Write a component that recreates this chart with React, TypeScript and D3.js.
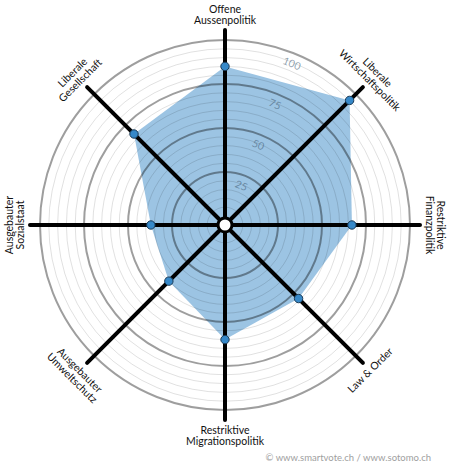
import React, { useRef, useEffect } from 'react';
import * as d3 from 'd3';

// axes clockwise from the top, each label split in its lines
const axisLabels: string[][] = [
  ['Offene', 'Aussenpolitik'],
  ['Liberale', 'Wirtschaftspolitik'],
  ['Restriktive', 'Finanzpolitik'],
  ['Law & Order'],
  ['Restriktive', 'Migrationspolitik'],
  ['Ausgebauter', 'Umweltschutz'],
  ['Ausgebauter', 'Sozialstaat'],
  ['Liberale', 'Gesellschaft'],
];
const values: number[] = [85, 95, 67, 54, 60, 40, 37, 68];
const majorTicks: number[] = [25, 50, 75, 100];
const minorTicks: number[] = [5, 10, 15, 20, 30, 35, 40, 45, 55, 60, 65, 70, 80, 85, 90, 95];
const footer = '© www.smartvote.ch / www.sotomo.ch';

const SmartSpider: React.FC = () => {
  const svgRef = useRef<SVGSVGElement | null>(null);
  const width = 450;
  const height = 470;

  useEffect(() => {
    if (!svgRef.current) return;
    const cx = 225;
    const cy = 225;
    const font = 'Lato, "Open Sans", sans-serif';

    const r = d3.scaleLinear().domain([0, 100]).range([9, 185]);
    const angle = d3.scaleLinear().domain([0, axisLabels.length]).range([0, 2 * Math.PI]);

    const svg = d3.select(svgRef.current)
      .attr('width', width)
      .attr('height', height);

    svg.append('rect').attr('width', width).attr('height', height).attr('fill', '#ffffff');

    const g = svg.append('g').attr('transform', `translate(${cx},${cy})`);

    // filled profile
    const radial = d3.lineRadial<number>()
      .angle((_, i) => angle(i))
      .radius(d => r(d))
      .curve(d3.curveLinearClosed);

    g.append('path')
      .attr('d', radial(values)!)
      .attr('fill', '#9cc4e3');

    // rings on top, semi transparent so they darken the fill
    g.selectAll('circle.minor')
      .data(minorTicks)
      .join('circle')
      .attr('class', 'minor')
      .attr('r', d => r(d))
      .attr('fill', 'none')
      .attr('stroke', 'rgba(0,0,0,0.12)')
      .attr('stroke-width', 1);

    g.selectAll('circle.major')
      .data(majorTicks)
      .join('circle')
      .attr('class', 'major')
      .attr('r', d => r(d))
      .attr('fill', 'none')
      .attr('stroke', 'rgba(0,0,0,0.38)')
      .attr('stroke-width', 2);

    // ring labels along 22.5 degrees
    const tickAngle = Math.PI / 8;
    g.selectAll('text.tick')
      .data(majorTicks)
      .join('text')
      .attr('class', 'tick')
      .attr('transform', d => {
        const rr = r(d) - 10;
        return `translate(${rr * Math.sin(tickAngle)},${-rr * Math.cos(tickAngle)}) rotate(22.5)`;
      })
      .attr('text-anchor', 'middle')
      .attr('dominant-baseline', 'central')
      .attr('font-family', font)
      .attr('font-size', 10.5)
      .attr('fill', 'rgba(70,95,120,0.6)')
      .text(d => d);

    // axis spokes
    g.selectAll('line.axis')
      .data(axisLabels)
      .join('line')
      .attr('class', 'axis')
      .attr('x1', 0)
      .attr('y1', 0)
      .attr('x2', (_, i) => 195 * Math.sin(angle(i)))
      .attr('y2', (_, i) => -195 * Math.cos(angle(i)))
      .attr('stroke', '#000000')
      .attr('stroke-width', 4)
      .attr('stroke-linecap', 'round');

    // points
    g.selectAll('circle.dot')
      .data(values)
      .join('circle')
      .attr('class', 'dot')
      .attr('cx', (d, i) => r(d) * Math.sin(angle(i)))
      .attr('cy', (d, i) => -r(d) * Math.cos(angle(i)))
      .attr('r', 4.2)
      .attr('fill', '#3688c8')
      .attr('stroke', '#1b3a55')
      .attr('stroke-width', 1);

    // center hub
    g.append('circle')
      .attr('r', 7)
      .attr('fill', '#ffffff')
      .attr('stroke', '#000000')
      .attr('stroke-width', 3);

    // axis labels, rotated tangentially
    const labelR = 205;
    const lineH = 11;
    axisLabels.forEach((lines, i) => {
      const deg = i * 360 / axisLabels.length;
      let rot = deg;
      if (deg > 90 && deg < 270) rot = deg - 180;
      else if (deg >= 270) rot = deg - 360;
      const outward = deg <= 90 || deg >= 270;
      const a = angle(i);
      const t = g.append('text')
        .attr('transform', `translate(${labelR * Math.sin(a)},${-labelR * Math.cos(a)}) rotate(${rot})`)
        .attr('text-anchor', 'middle')
        .attr('font-family', font)
        .attr('font-size', 10.5)
        .attr('fill', '#111111');
      lines.forEach((line, j) => {
        const y = outward ? -(lines.length - 1 - j) * lineH : j * lineH;
        t.append('tspan')
          .attr('x', 0)
          .attr('y', y)
          .attr('dominant-baseline', 'central')
          .text(line);
      });
    });

    svg.append('text')
      .attr('x', 431)
      .attr('y', 461)
      .attr('text-anchor', 'end')
      .attr('font-family', font)
      .attr('font-size', 9.5)
      .attr('fill', '#a0a0a0')
      .text(footer);

    return () => {
      d3.select(svgRef.current).selectAll('*').remove();
    };
  }, []);

  return <svg ref={svgRef} style={{ position: 'absolute', left: 0, top: 0 }}></svg>;
};

export default function App() {
  return <SmartSpider />;
}
